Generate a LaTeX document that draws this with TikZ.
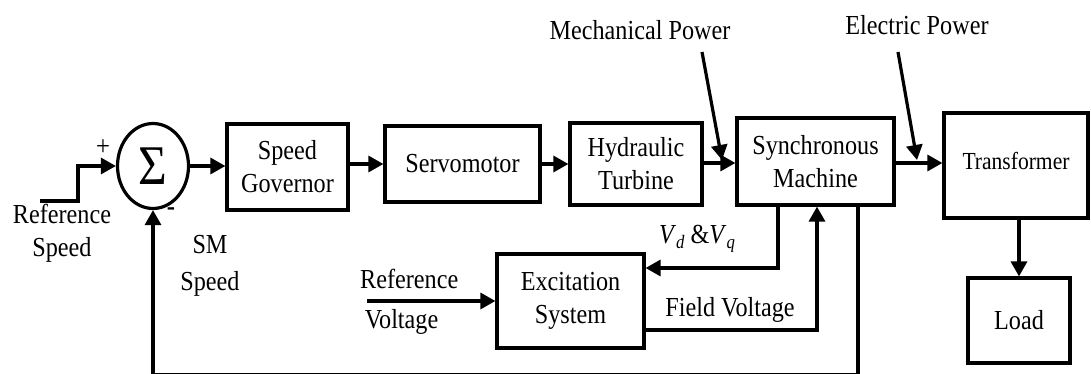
\documentclass[tikz,border=0pt]{standalone}
\usepackage{fontspec}
\setmainfont[FakeStretch=0.88]{Liberation Serif}
\usetikzlibrary{shapes.geometric,arrows.meta}
\newcommand{\vsub}[2]{\textit{#1}\raisebox{-5pt}{\fontsize{19}{19}\selectfont\textit{#2}}}
\begin{document}
\begin{tikzpicture}[x=1pt,y=-1pt,
  blk/.style={draw,line width=3.2pt,inner sep=0pt,align=center,font=\fontsize{27.5}{33}\selectfont},
  lbl/.style={inner sep=0pt,align=center,font=\fontsize{27.5}{33}\selectfont},
  arr/.style={line width=3.2pt,-{Triangle[length=15pt,width=16pt]}}]
\useasboundingbox (0,0) rectangle (1091,374);
% blocks
\node[blk,ellipse,minimum width=71pt,minimum height=85pt,font=\fontsize{56}{60}\selectfont] (sum) at (153,166) {\raisebox{-2pt}{Σ}};
\node[blk,minimum width=121pt,minimum height=86pt] (gov) at (287.5,167) {Speed\\Governor};
\node[blk,minimum width=155pt,minimum height=76pt] (servo) at (462.5,164) {Servomotor};
\node[blk,minimum width=132pt,minimum height=82pt] (turb) at (636,164) {Hydraulic\\Turbine};
\node[blk,minimum width=157pt,minimum height=87pt] (sm) at (815.5,161.5) {Synchronous\\Machine};
\node[blk,minimum width=144pt,minimum height=105pt,font=\fontsize{24.5}{28}\selectfont] (trans) at (1016,165.5) {\raisebox{10pt}{Transformer}};
\node[blk,minimum width=102pt,minimum height=85pt] (load) at (1019,320.5) {Load};
\node[blk,minimum width=147pt,minimum height=94pt] (exc) at (570.5,301) {Excitation\\System};
% labels
\node[lbl,font=\fontsize{28}{28}\selectfont] (plus) at (103,148) {+};
\node[lbl,font=\fontsize{28}{28}\selectfont\bfseries] (minus) at (171,212) {-};
\node[lbl,font=\fontsize{27.5}{33}\selectfont] (refspd) at (62,233) {Reference\\Speed};
\node[lbl,font=\fontsize{27.5}{37}\selectfont] (smspd) at (210,266) {SM\\Speed};
\node[lbl] (mech) at (640,30) {Mechanical Power};
\node[lbl] (elec) at (917,25) {Electric Power};
\node[lbl] (vdvq) at (697,239) {\vsub{V}{d} \&\vsub{V}{q}};
\node[lbl] (field) at (730,310) {Field Voltage};
\node[lbl,align=left,anchor=west,font=\fontsize{27.5}{40}\selectfont] (refv) at (360,302) {Reference\\\,Voltage};
% coordinates
\coordinate (rs) at (40,201);
\coordinate (rsk) at (78,201);
\coordinate (mp) at (702,52);
\coordinate (mpe) at (722,160);
\coordinate (ep) at (898,52);
\coordinate (epe) at (917,160);
\coordinate (vd) at (778,268);
\coordinate (fv) at (817,330);
\coordinate (fb) at (858,374.5);
\coordinate (rv) at (367,301);
% connectors
\draw[arr] (rs) -- (rsk) |- (sum.west);
\draw[arr] (sum.east) -- (gov.west |- sum.east);
\draw[arr] (gov.east |- servo.west) -- (servo.west);
\draw[arr] (servo.east) -- (turb.west |- servo.east);
\draw[arr] (turb.east |- 0,163) -- (sm.west |- 0,163);
\draw[arr] (sm.east |- 0,163) -- (trans.west |- 0,163);
\draw[arr] (trans.south -| load) -- (load.north);
\draw[arr] (mp) -- (mpe);
\draw[arr] (ep) -- (epe);
\draw[arr] (sm.south -| vd) -- (vd) -- (exc.east |- vd);
\draw[arr] (exc.east |- fv) -- (fv) -- (sm.south -| fv);
\draw[arr] (sm.south -| fb) -- (fb) -- (sum.south |- fb) -- (sum.south);
\draw[arr] (rv) -- (exc.west |- rv);
\end{tikzpicture}
\end{document}
